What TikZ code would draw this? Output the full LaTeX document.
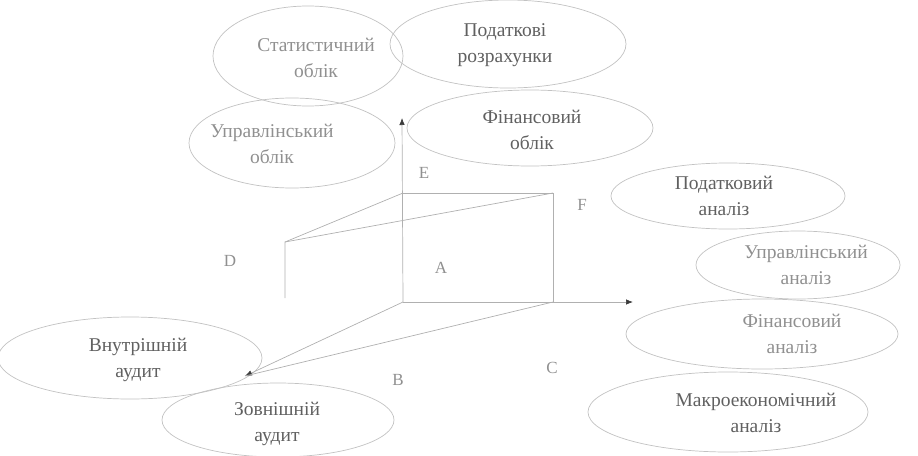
\documentclass[tikz,border=0pt]{standalone}
\usepackage{fontspec}
\setmainfont{Liberation Serif}
\usetikzlibrary{shapes.geometric,arrows.meta}
\definecolor{txtdark}{HTML}{606060}
\definecolor{txtlight}{HTML}{909090}
\definecolor{linec}{HTML}{B0B0B0}
\definecolor{ovalc}{HTML}{C2C2C2}
\definecolor{tipc}{HTML}{3A3A3A}
\begin{document}
\begin{tikzpicture}[x=1pt,y=-1pt,
  oval/.style={draw=ovalc, line width=0.7pt, ellipse, inner sep=0pt},
  lbl/.style={align=center, font=\fontsize{19.5}{26}\selectfont, text=txtlight},
  lbldark/.style={lbl, text=txtdark},
  ax/.style={draw=linec, line width=0.7pt},
  axarrow/.style={ax, -{Latex[length=7pt,width=5.5pt,color=tipc]}},
  letter/.style={font=\fontsize{17}{20}\selectfont, text=txtlight}]
\useasboundingbox (0,0) rectangle (918,455);

% ellipses
\node[oval, minimum width=190pt, minimum height=100pt] (estat) at (308,56) {};
\node[oval, minimum width=236pt, minimum height=88pt] (epod) at (508,44) {};
\node[oval, minimum width=246pt, minimum height=76pt] (efin) at (530,128) {};
\node[oval, minimum width=206pt, minimum height=90pt] (eupr) at (292,143) {};
\node[oval, minimum width=234pt, minimum height=66pt] (epan) at (728,196) {};
\node[oval, minimum width=204pt, minimum height=68pt] (euan) at (798,265) {};
\node[oval, minimum width=272pt, minimum height=70pt] (efan) at (762,334) {};
\node[oval, minimum width=280pt, minimum height=80pt] (eman) at (728,412) {};
\node[oval, minimum width=264pt, minimum height=82pt] (evau) at (130,358) {};
\node[oval, minimum width=232pt, minimum height=74pt] (ezau) at (278,420) {};

% texts
\node[lbl] (tstat) at (316,58) {Статистичний\\облік};
\node[lbldark] (tpod) at (505,45) {Податкові\\розрахунки};
\node[lbldark] (tfin) at (532,130) {Фінансовий\\облік};
\node[lbl] (tupr) at (272,144) {Управлінський\\облік};
\node[lbldark] (tpan) at (724,196) {Податковий\\аналіз};
\node[lbl] (tuan) at (806,265) {Управлінський\\аналіз};
\node[lbl] (tfan) at (792,334) {Фінансовий\\аналіз};
\node[lbldark] (tman) at (756,413) {Макроекономічний\\аналіз};
\node[lbldark] (tvau) at (138,360) {Внутрішній\\аудит};
\node[lbldark] (tzau) at (277,424) {Зовнішній\\аудит};

% axes and figure
\coordinate (O) at (403,302);
\coordinate (up) at (402,118);
\coordinate (right) at (633,302);
\coordinate (diag) at (245,376);
\coordinate (R1) at (553,302);
\coordinate (R2) at (553,193);
\coordinate (R3) at (403,193);
\coordinate (D1) at (285,242);
\coordinate (D2) at (285,298);

\draw[axarrow] (O) -- (up);
\draw[axarrow] (O) -- (right);
\draw[axarrow] (O) -- (diag);
\draw[ax] (R1) -- (R2) -- (R3);
\draw[ax] (D2) -- (D1) -- (R3);
\draw[ax] (D1) -- (R2);
\draw[ax] (R1) -- (diag);

% letters
\node[letter] (lE) at (424,173) {E};
\node[letter] (lF) at (582,205) {F};
\node[letter] (lD) at (230,261) {D};
\node[letter] (lA) at (441,268) {A};
\node[letter] (lB) at (398,380) {B};
\node[letter] (lC) at (552,368) {C};
\end{tikzpicture}
\end{document}
